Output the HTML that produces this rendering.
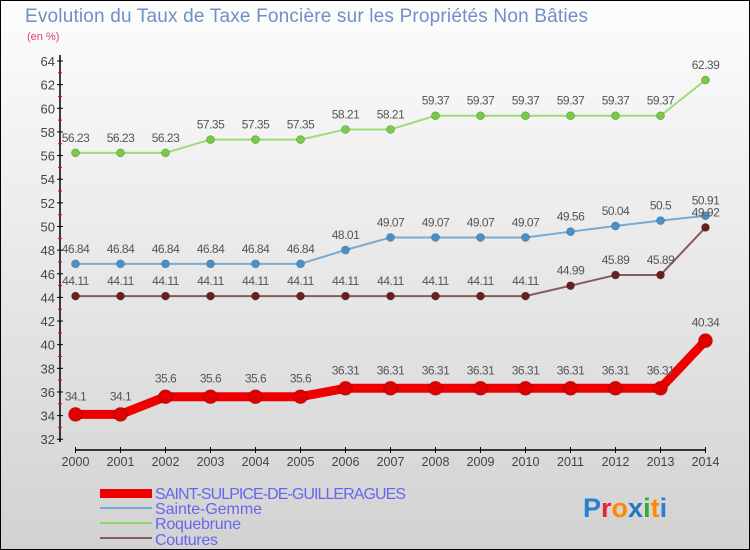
<!DOCTYPE html>
<html><head><meta charset="utf-8"><style>
body{margin:0}
#c{width:750px;height:550px;position:relative;overflow:hidden;box-sizing:border-box;border:1px solid #000;background:linear-gradient(#fdfdfd,#d2d2d2);font-family:"Liberation Sans",sans-serif}
</style></head><body>
<div id="c">
<svg width="750" height="550" style="position:absolute;left:-1px;top:-1px" id="s">
<text x="25" y="22" font-size="19" fill="#6f8fc6" textLength="563">Evolution du Taux de Taxe Foncière sur les Propriétés Non Bâties</text>
<text x="27" y="40" font-size="11" fill="#e04070">(en %)</text>
<g id="axes"></g><g id="series"></g>
<g>
<rect x="100" y="489" width="52" height="9" fill="#e00"/>
<text x="155" y="499" font-size="16" fill="#6666ee" textLength="251">SAINT-SULPICE-DE-GUILLERAGUES</text>
<rect x="100" y="507" width="52" height="2" fill="#7aaad0"/>
<text x="155" y="514" font-size="16" fill="#6666ee" textLength="107">Sainte-Gemme</text>
<rect x="100" y="522" width="52" height="2" fill="#8ed86a"/>
<text x="155" y="529" font-size="16" fill="#6666ee" textLength="86">Roquebrune</text>
<rect x="100" y="537" width="52" height="2" fill="#8a5a5a"/>
<text x="155" y="545" font-size="16" fill="#6666ee" textLength="63">Coutures</text>
</g>
<text x="583" y="517" font-size="27" font-weight="bold"><tspan fill="#2a7fd4">P</tspan><tspan fill="#e23">r</tspan><tspan fill="#f80">o</tspan><tspan fill="#27b">x</tspan><tspan fill="#3a3">i</tspan><tspan fill="#f80">t</tspan><tspan fill="#2a7fd4">i</tspan></text>
</svg>
<script>
const years=[2000,2001,2002,2003,2004,2005,2006,2007,2008,2009,2010,2011,2012,2013,2014];
const yTicks=[32,34,36,38,40,42,44,46,48,50,52,54,56,58,60,62,64];
const saintSulpice=[34.1,34.1,35.6,35.6,35.6,35.6,36.31,36.31,36.31,36.31,36.31,36.31,36.31,36.31,40.34];
const sainteGemme=[46.84,46.84,46.84,46.84,46.84,46.84,48.01,49.07,49.07,49.07,49.07,49.56,50.04,50.5,50.91];
const roquebrune=[56.23,56.23,56.23,57.35,57.35,57.35,58.21,58.21,59.37,59.37,59.37,59.37,59.37,59.37,62.39];
const coutures=[44.11,44.11,44.11,44.11,44.11,44.11,44.11,44.11,44.11,44.11,44.11,44.99,45.89,45.89,49.92];
const NS="http://www.w3.org/2000/svg";
const X=i=>75.5+i*(705.5-75.5)/(years.length-1);
const Y=v=>61+(64-v)*11.82;
function mk(t,a,p){const e=document.createElementNS(NS,t);for(const k in a)e.setAttribute(k,a[k]);p.appendChild(e);return e;}
const ax=document.getElementById('axes');
let yl=mk('line',{x1:60,y1:55,x2:60,y2:442,stroke:'#000','stroke-width':1.5},ax);


yTicks.forEach(v=>{
 mk('line',{x1:57,x2:63,y1:Y(v),y2:Y(v),stroke:'#000'},ax);
 if(v<64)mk('line',{x1:58,x2:62,y1:Y(v+1),y2:Y(v+1),stroke:'#e00'},ax);
 const t=mk('text',{x:55,y:Y(v)+5,'text-anchor':'end','font-size':13,fill:'#444'},ax);t.textContent=v;
 
 
});
let xl=mk('line',{x1:75,y1:450,x2:706,y2:450,stroke:'#000','stroke-width':1.5},ax);


years.forEach((y,i)=>{
 mk('line',{x1:X(i),x2:X(i),y1:447,y2:453,stroke:'#000'},ax);
 const t=mk('text',{x:X(i),y:466,'text-anchor':'middle','font-size':12.5,fill:'#444'},ax);t.textContent=y;
 
 
});
const sg=document.getElementById('series');
function series(vals,name,color,w,r,dot){
 const g=mk('g',{},sg);
 
 
 mk('polyline',{points:vals.map((v,i)=>X(i)+','+Y(v)).join(' '),fill:'none',stroke:color,'stroke-width':w,'stroke-linejoin':'round'},g);
 vals.forEach((v,i)=>{
  const c=mk('circle',{cx:X(i),cy:Y(v),r:r,fill:dot,stroke:'#0004','stroke-width':0.7},g);
  
  
  const t=mk('text',{x:X(i),y:Y(v)-(r+7),'text-anchor':'middle','font-size':12,fill:'#555','letter-spacing':'-0.5'},g);
  t.textContent=v;
  
  
 });
}
series(roquebrune,'roquebrune','#9ddc7a',2,4,'#77cc44');
series(sainteGemme,'sainte-gemme','#7aaad0',2,4,'#4a90c8');
series(coutures,'coutures','#8a5a5a',2,4,'#6a1f1f');
series(saintSulpice,'saint-sulpice','#ee0000',9,7,'#e00000');
</script>
</div>
</body></html>
